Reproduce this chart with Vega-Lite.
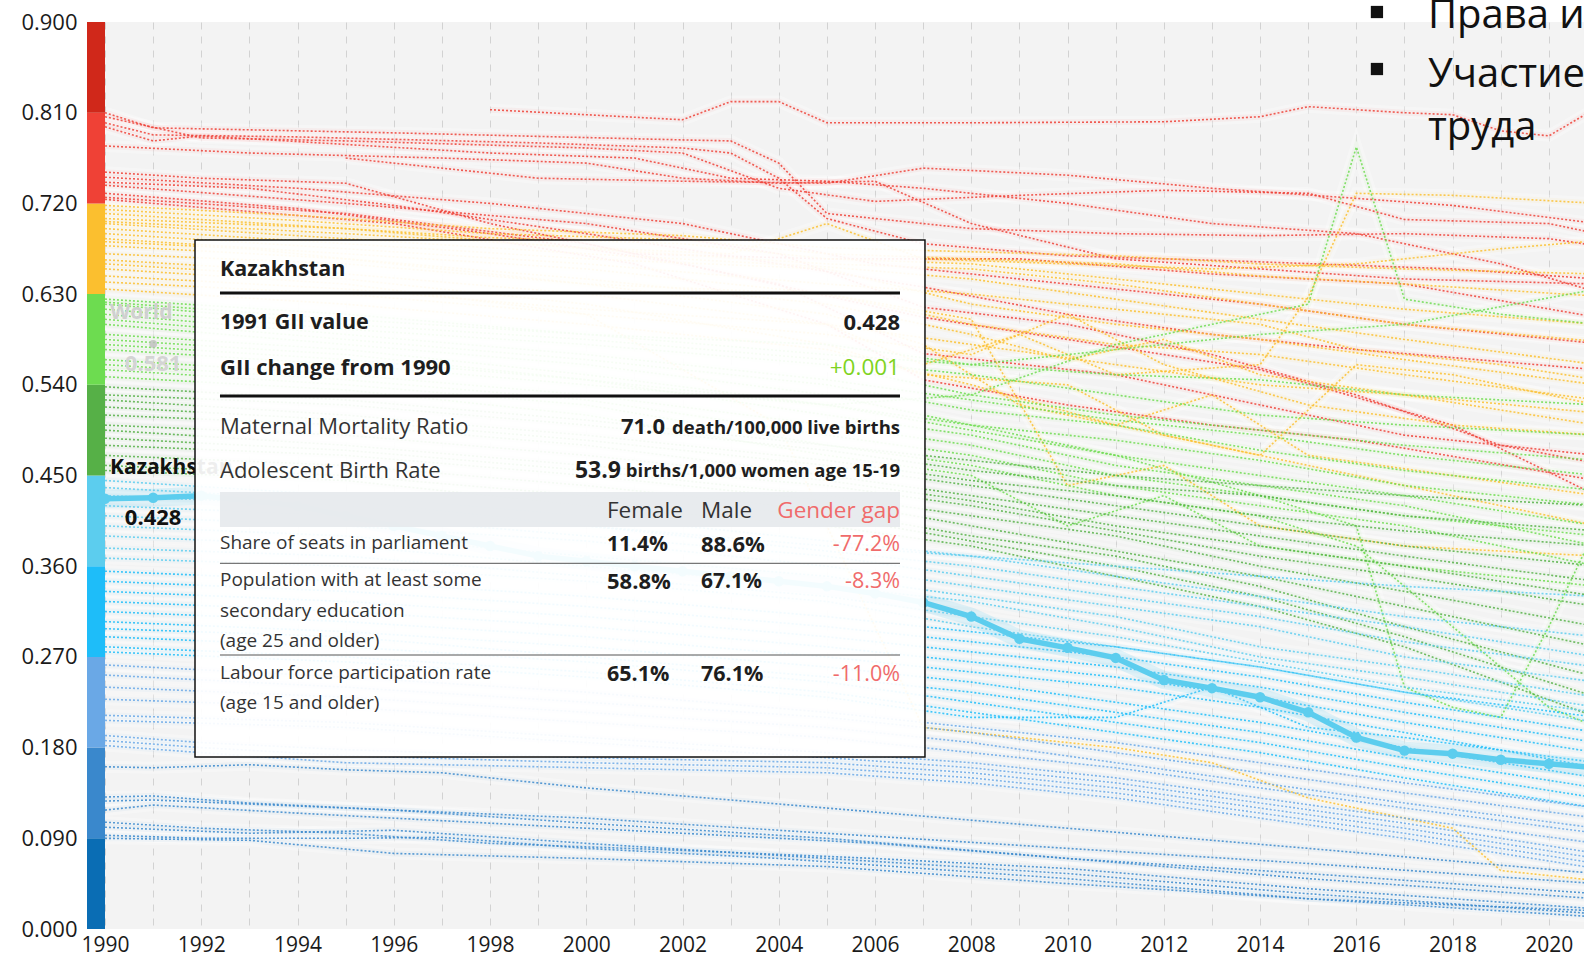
{
"$schema": "https://vega.github.io/schema/vega-lite/v6.json",
"width": 1497, "height": 907,
"autosize": {"type": "none"},
"padding": {"left": 87, "top": 22, "right": 0, "bottom": 28},
"background": "white",
"config": {"view": {"fill": "#f3f3f3", "stroke": null}, "font": "Open Sans"},
"data": {"values": [{}]},
"datasets": {
"bands": [{"k":"a","lo":0,"hi":0.09},{"k":"b","lo":0.09,"hi":0.18},{"k":"c","lo":0.18,"hi":0.27},{"k":"d","lo":0.27,"hi":0.36},{"k":"e","lo":0.36,"hi":0.45},{"k":"f","lo":0.45,"hi":0.54},{"k":"g","lo":0.54,"hi":0.63},{"k":"h","lo":0.63,"hi":0.72},{"k":"i","lo":0.72,"hi":0.81},{"k":"j","lo":0.81,"hi":0.9}],
"kz": [{"t":1990,"v":0.427},{"t":1991,"v":0.428},{"t":1992,"v":0.43},{"t":1993,"v":0.425},{"t":1994,"v":0.42},{"t":1995,"v":0.41},{"t":1996,"v":0.4},{"t":1997,"v":0.39},{"t":1998,"v":0.38},{"t":1999,"v":0.37},{"t":2000,"v":0.365},{"t":2001,"v":0.36},{"t":2002,"v":0.355},{"t":2003,"v":0.35},{"t":2004,"v":0.345},{"t":2005,"v":0.34},{"t":2006,"v":0.333},{"t":2007,"v":0.324},{"t":2008,"v":0.31},{"t":2009,"v":0.288},{"t":2010,"v":0.279},{"t":2011,"v":0.269},{"t":2012,"v":0.247},{"t":2013,"v":0.239},{"t":2014,"v":0.23},{"t":2015,"v":0.215},{"t":2016,"v":0.19},{"t":2017,"v":0.177},{"t":2018,"v":0.174},{"t":2019,"v":0.168},{"t":2020,"v":0.164},{"t":2021,"v":0.16}],
"lines": [
{"c":"i1","k":"i","t":1998,"v":0.813},{"c":"i1","k":"i","t":2002,"v":0.803},{"c":"i1","k":"i","t":2003,"v":0.821},{"c":"i1","k":"i","t":2004,"v":0.821},{"c":"i1","k":"i","t":2005,"v":0.8},{"c":"i1","k":"i","t":2008,"v":0.8},{"c":"i1","k":"i","t":2012,"v":0.801},{"c":"i1","k":"i","t":2014,"v":0.806},{"c":"i1","k":"i","t":2015,"v":0.816},{"c":"i1","k":"i","t":2017,"v":0.81},{"c":"i1","k":"i","t":2018,"v":0.808},{"c":"i1","k":"i","t":2019,"v":0.792},{"c":"i1","k":"i","t":2020,"v":0.787},{"c":"i1","k":"i","t":2021,"v":0.815},
{"c":"i2","k":"i","t":1990,"v":0.81},{"c":"i2","k":"i","t":1991,"v":0.795},{"c":"i2","k":"i","t":1996,"v":0.79},{"c":"i2","k":"i","t":2002,"v":0.783},{"c":"i2","k":"i","t":2003,"v":0.782},{"c":"i2","k":"i","t":2004,"v":0.76},{"c":"i2","k":"i","t":2005,"v":0.71},{"c":"i2","k":"i","t":2008,"v":0.695},{"c":"i2","k":"i","t":2011,"v":0.69},{"c":"i2","k":"i","t":2014,"v":0.688},{"c":"i2","k":"i","t":2017,"v":0.69},{"c":"i2","k":"i","t":2020,"v":0.685},{"c":"i2","k":"i","t":2021,"v":0.678},
{"c":"i3","k":"i","t":1990,"v":0.806},{"c":"i3","k":"i","t":1992,"v":0.785},{"c":"i3","k":"i","t":1995,"v":0.782},{"c":"i3","k":"i","t":2000,"v":0.775},{"c":"i3","k":"i","t":2002,"v":0.77},{"c":"i3","k":"i","t":2004,"v":0.735},{"c":"i3","k":"i","t":2006,"v":0.722},{"c":"i3","k":"i","t":2009,"v":0.728},{"c":"i3","k":"i","t":2012,"v":0.733},{"c":"i3","k":"i","t":2015,"v":0.73},{"c":"i3","k":"i","t":2017,"v":0.704},{"c":"i3","k":"i","t":2020,"v":0.7},{"c":"i3","k":"i","t":2021,"v":0.69},
{"c":"i4","k":"i","t":1990,"v":0.796},{"c":"i4","k":"i","t":1991,"v":0.782},{"c":"i4","k":"i","t":1992,"v":0.787},{"c":"i4","k":"i","t":1998,"v":0.77},{"c":"i4","k":"i","t":2001,"v":0.765},{"c":"i4","k":"i","t":2003,"v":0.745},{"c":"i4","k":"i","t":2005,"v":0.742},{"c":"i4","k":"i","t":2007,"v":0.735},{"c":"i4","k":"i","t":2010,"v":0.72},{"c":"i4","k":"i","t":2013,"v":0.7},{"c":"i4","k":"i","t":2016,"v":0.69},{"c":"i4","k":"i","t":2019,"v":0.66},{"c":"i4","k":"i","t":2021,"v":0.632},
{"c":"i5","k":"i","t":1990,"v":0.777},{"c":"i5","k":"i","t":1993,"v":0.77},{"c":"i5","k":"i","t":1997,"v":0.765},{"c":"i5","k":"i","t":2000,"v":0.76},{"c":"i5","k":"i","t":2002,"v":0.745},{"c":"i5","k":"i","t":2004,"v":0.74},{"c":"i5","k":"i","t":2006,"v":0.742},{"c":"i5","k":"i","t":2008,"v":0.7},{"c":"i5","k":"i","t":2011,"v":0.665},{"c":"i5","k":"i","t":2014,"v":0.655},{"c":"i5","k":"i","t":2017,"v":0.645},{"c":"i5","k":"i","t":2021,"v":0.64},
{"c":"i6","k":"i","t":1990,"v":0.751},{"c":"i6","k":"i","t":1992,"v":0.745},{"c":"i6","k":"i","t":1995,"v":0.74},{"c":"i6","k":"i","t":1998,"v":0.7},{"c":"i6","k":"i","t":2001,"v":0.67},{"c":"i6","k":"i","t":2005,"v":0.665},{"c":"i6","k":"i","t":2009,"v":0.665},{"c":"i6","k":"i","t":2013,"v":0.65},{"c":"i6","k":"i","t":2017,"v":0.64},{"c":"i6","k":"i","t":2021,"v":0.607},
{"c":"i7","k":"i","t":1990,"v":0.746},{"c":"i7","k":"i","t":1994,"v":0.735},{"c":"i7","k":"i","t":1998,"v":0.72},{"c":"i7","k":"i","t":2002,"v":0.7},{"c":"i7","k":"i","t":2006,"v":0.66},{"c":"i7","k":"i","t":2010,"v":0.64},{"c":"i7","k":"i","t":2014,"v":0.62},{"c":"i7","k":"i","t":2017,"v":0.6},{"c":"i7","k":"i","t":2021,"v":0.581},
{"c":"i8","k":"i","t":1990,"v":0.741},{"c":"i8","k":"i","t":1993,"v":0.735},{"c":"i8","k":"i","t":1996,"v":0.718},{"c":"i8","k":"i","t":2000,"v":0.69},{"c":"i8","k":"i","t":2004,"v":0.66},{"c":"i8","k":"i","t":2007,"v":0.637},{"c":"i8","k":"i","t":2010,"v":0.61},{"c":"i8","k":"i","t":2013,"v":0.59},{"c":"i8","k":"i","t":2016,"v":0.575},{"c":"i8","k":"i","t":2021,"v":0.555},
{"c":"i9","k":"i","t":1990,"v":0.738},{"c":"i9","k":"i","t":1995,"v":0.72},{"c":"i9","k":"i","t":2000,"v":0.7},{"c":"i9","k":"i","t":2004,"v":0.67},{"c":"i9","k":"i","t":2007,"v":0.617},{"c":"i9","k":"i","t":2010,"v":0.6},{"c":"i9","k":"i","t":2013,"v":0.57},{"c":"i9","k":"i","t":2016,"v":0.53},{"c":"i9","k":"i","t":2019,"v":0.48},{"c":"i9","k":"i","t":2021,"v":0.462},
{"c":"i10","k":"i","t":1990,"v":0.73},{"c":"i10","k":"i","t":1994,"v":0.715},{"c":"i10","k":"i","t":1998,"v":0.69},{"c":"i10","k":"i","t":2002,"v":0.66},{"c":"i10","k":"i","t":2007,"v":0.607},{"c":"i10","k":"i","t":2010,"v":0.585},{"c":"i10","k":"i","t":2014,"v":0.555},{"c":"i10","k":"i","t":2018,"v":0.5},{"c":"i10","k":"i","t":2021,"v":0.43},
{"c":"i11","k":"i","t":1990,"v":0.726},{"c":"i11","k":"i","t":1995,"v":0.71},{"c":"i11","k":"i","t":2000,"v":0.68},{"c":"i11","k":"i","t":2004,"v":0.64},{"c":"i11","k":"i","t":2007,"v":0.571},{"c":"i11","k":"i","t":2011,"v":0.55},{"c":"i11","k":"i","t":2014,"v":0.52},{"c":"i11","k":"i","t":2017,"v":0.49},{"c":"i11","k":"i","t":2021,"v":0.47},
{"c":"i12","k":"i","t":1990,"v":0.724},{"c":"i12","k":"i","t":1996,"v":0.7},{"c":"i12","k":"i","t":2001,"v":0.66},{"c":"i12","k":"i","t":2005,"v":0.6},{"c":"i12","k":"i","t":2007,"v":0.545},{"c":"i12","k":"i","t":2010,"v":0.52},{"c":"i12","k":"i","t":2013,"v":0.5},{"c":"i12","k":"i","t":2016,"v":0.485},{"c":"i12","k":"i","t":2021,"v":0.445},
{"c":"i13","k":"i","t":1995,"v":0.765},{"c":"i13","k":"i","t":1999,"v":0.745},{"c":"i13","k":"i","t":2002,"v":0.742},{"c":"i13","k":"i","t":2005,"v":0.74},{"c":"i13","k":"i","t":2007,"v":0.755},{"c":"i13","k":"i","t":2010,"v":0.748},{"c":"i13","k":"i","t":2013,"v":0.735},{"c":"i13","k":"i","t":2016,"v":0.725},{"c":"i13","k":"i","t":2018,"v":0.718},{"c":"i13","k":"i","t":2021,"v":0.7},
{"c":"i14","k":"i","t":1990,"v":0.8},{"c":"i14","k":"i","t":1991,"v":0.788},{"c":"i14","k":"i","t":1994,"v":0.786},{"c":"i14","k":"i","t":1999,"v":0.78},{"c":"i14","k":"i","t":2002,"v":0.775},{"c":"i14","k":"i","t":2003,"v":0.77},{"c":"i14","k":"i","t":2004,"v":0.745},{"c":"i14","k":"i","t":2005,"v":0.705},{"c":"i14","k":"i","t":2007,"v":0.68},{"c":"i14","k":"i","t":2010,"v":0.668},{"c":"i14","k":"i","t":2014,"v":0.662},{"c":"i14","k":"i","t":2018,"v":0.655},{"c":"i14","k":"i","t":2021,"v":0.645},
{"c":"h1","k":"h","t":1990,"v":0.718},{"c":"h1","k":"h","t":1994,"v":0.708},{"c":"h1","k":"h","t":1998,"v":0.695},{"c":"h1","k":"h","t":2002,"v":0.688},{"c":"h1","k":"h","t":2005,"v":0.676},{"c":"h1","k":"h","t":2008,"v":0.672},{"c":"h1","k":"h","t":2011,"v":0.668},{"c":"h1","k":"h","t":2014,"v":0.66},{"c":"h1","k":"h","t":2017,"v":0.655},{"c":"h1","k":"h","t":2021,"v":0.65},
{"c":"h2","k":"h","t":1990,"v":0.714},{"c":"h2","k":"h","t":1994,"v":0.703},{"c":"h2","k":"h","t":1998,"v":0.69},{"c":"h2","k":"h","t":2002,"v":0.684},{"c":"h2","k":"h","t":2005,"v":0.67},{"c":"h2","k":"h","t":2008,"v":0.665},{"c":"h2","k":"h","t":2011,"v":0.66},{"c":"h2","k":"h","t":2014,"v":0.648},{"c":"h2","k":"h","t":2017,"v":0.64},{"c":"h2","k":"h","t":2021,"v":0.628},
{"c":"h3","k":"h","t":1990,"v":0.71},{"c":"h3","k":"h","t":1994,"v":0.698},{"c":"h3","k":"h","t":1998,"v":0.686},{"c":"h3","k":"h","t":2002,"v":0.68},{"c":"h3","k":"h","t":2005,"v":0.665},{"c":"h3","k":"h","t":2008,"v":0.66},{"c":"h3","k":"h","t":2011,"v":0.645},{"c":"h3","k":"h","t":2014,"v":0.63},{"c":"h3","k":"h","t":2017,"v":0.615},{"c":"h3","k":"h","t":2021,"v":0.6},
{"c":"h4","k":"h","t":1990,"v":0.705},{"c":"h4","k":"h","t":1995,"v":0.695},{"c":"h4","k":"h","t":2000,"v":0.675},{"c":"h4","k":"h","t":2005,"v":0.66},{"c":"h4","k":"h","t":2008,"v":0.655},{"c":"h4","k":"h","t":2011,"v":0.64},{"c":"h4","k":"h","t":2014,"v":0.62},{"c":"h4","k":"h","t":2017,"v":0.6},{"c":"h4","k":"h","t":2021,"v":0.583},
{"c":"h5","k":"h","t":1990,"v":0.7},{"c":"h5","k":"h","t":1995,"v":0.685},{"c":"h5","k":"h","t":2000,"v":0.67},{"c":"h5","k":"h","t":2005,"v":0.657},{"c":"h5","k":"h","t":2008,"v":0.645},{"c":"h5","k":"h","t":2011,"v":0.625},{"c":"h5","k":"h","t":2014,"v":0.605},{"c":"h5","k":"h","t":2017,"v":0.585},{"c":"h5","k":"h","t":2021,"v":0.56},
{"c":"h6","k":"h","t":1990,"v":0.695},{"c":"h6","k":"h","t":1995,"v":0.68},{"c":"h6","k":"h","t":2000,"v":0.665},{"c":"h6","k":"h","t":2005,"v":0.655},{"c":"h6","k":"h","t":2008,"v":0.62},{"c":"h6","k":"h","t":2011,"v":0.6},{"c":"h6","k":"h","t":2014,"v":0.585},{"c":"h6","k":"h","t":2017,"v":0.565},{"c":"h6","k":"h","t":2021,"v":0.54},
{"c":"h7","k":"h","t":1990,"v":0.69},{"c":"h7","k":"h","t":1995,"v":0.675},{"c":"h7","k":"h","t":2000,"v":0.66},{"c":"h7","k":"h","t":2005,"v":0.64},{"c":"h7","k":"h","t":2008,"v":0.63},{"c":"h7","k":"h","t":2011,"v":0.615},{"c":"h7","k":"h","t":2014,"v":0.6},{"c":"h7","k":"h","t":2016,"v":0.575},{"c":"h7","k":"h","t":2019,"v":0.56},{"c":"h7","k":"h","t":2021,"v":0.545},
{"c":"h8","k":"h","t":1990,"v":0.685},{"c":"h8","k":"h","t":1995,"v":0.67},{"c":"h8","k":"h","t":2000,"v":0.655},{"c":"h8","k":"h","t":2005,"v":0.63},{"c":"h8","k":"h","t":2008,"v":0.6},{"c":"h8","k":"h","t":2011,"v":0.58},{"c":"h8","k":"h","t":2014,"v":0.57},{"c":"h8","k":"h","t":2017,"v":0.55},{"c":"h8","k":"h","t":2021,"v":0.525},
{"c":"h9","k":"h","t":1990,"v":0.678},{"c":"h9","k":"h","t":1995,"v":0.665},{"c":"h9","k":"h","t":2000,"v":0.645},{"c":"h9","k":"h","t":2005,"v":0.62},{"c":"h9","k":"h","t":2008,"v":0.59},{"c":"h9","k":"h","t":2010,"v":0.565},{"c":"h9","k":"h","t":2012,"v":0.585},{"c":"h9","k":"h","t":2014,"v":0.55},{"c":"h9","k":"h","t":2017,"v":0.53},{"c":"h9","k":"h","t":2021,"v":0.512},
{"c":"h10","k":"h","t":1990,"v":0.67},{"c":"h10","k":"h","t":1995,"v":0.66},{"c":"h10","k":"h","t":2000,"v":0.64},{"c":"h10","k":"h","t":2005,"v":0.61},{"c":"h10","k":"h","t":2007,"v":0.58},{"c":"h10","k":"h","t":2009,"v":0.52},{"c":"h10","k":"h","t":2011,"v":0.5},{"c":"h10","k":"h","t":2013,"v":0.53},{"c":"h10","k":"h","t":2015,"v":0.47},{"c":"h10","k":"h","t":2018,"v":0.45},{"c":"h10","k":"h","t":2021,"v":0.43},
{"c":"h11","k":"h","t":1990,"v":0.664},{"c":"h11","k":"h","t":1995,"v":0.65},{"c":"h11","k":"h","t":2000,"v":0.63},{"c":"h11","k":"h","t":2005,"v":0.6},{"c":"h11","k":"h","t":2007,"v":0.56},{"c":"h11","k":"h","t":2009,"v":0.59},{"c":"h11","k":"h","t":2011,"v":0.55},{"c":"h11","k":"h","t":2014,"v":0.56},{"c":"h11","k":"h","t":2015,"v":0.627},{"c":"h11","k":"h","t":2016,"v":0.73},{"c":"h11","k":"h","t":2018,"v":0.728},{"c":"h11","k":"h","t":2021,"v":0.72},
{"c":"h12","k":"h","t":1990,"v":0.66},{"c":"h12","k":"h","t":1995,"v":0.645},{"c":"h12","k":"h","t":2000,"v":0.62},{"c":"h12","k":"h","t":2005,"v":0.58},{"c":"h12","k":"h","t":2007,"v":0.55},{"c":"h12","k":"h","t":2010,"v":0.54},{"c":"h12","k":"h","t":2012,"v":0.49},{"c":"h12","k":"h","t":2014,"v":0.47},{"c":"h12","k":"h","t":2016,"v":0.56},{"c":"h12","k":"h","t":2018,"v":0.55},{"c":"h12","k":"h","t":2021,"v":0.52},
{"c":"h13","k":"h","t":1990,"v":0.655},{"c":"h13","k":"h","t":1995,"v":0.64},{"c":"h13","k":"h","t":2000,"v":0.61},{"c":"h13","k":"h","t":2004,"v":0.5},{"c":"h13","k":"h","t":2007,"v":0.2},{"c":"h13","k":"h","t":2009,"v":0.19},{"c":"h13","k":"h","t":2011,"v":0.18},{"c":"h13","k":"h","t":2013,"v":0.165},{"c":"h13","k":"h","t":2015,"v":0.13},{"c":"h13","k":"h","t":2018,"v":0.1},{"c":"h13","k":"h","t":2019,"v":0.058},{"c":"h13","k":"h","t":2021,"v":0.048},
{"c":"h14","k":"h","t":1990,"v":0.648},{"c":"h14","k":"h","t":1995,"v":0.635},{"c":"h14","k":"h","t":2000,"v":0.615},{"c":"h14","k":"h","t":2005,"v":0.6},{"c":"h14","k":"h","t":2008,"v":0.58},{"c":"h14","k":"h","t":2011,"v":0.56},{"c":"h14","k":"h","t":2014,"v":0.54},{"c":"h14","k":"h","t":2017,"v":0.53},{"c":"h14","k":"h","t":2021,"v":0.5},
{"c":"h15","k":"h","t":1990,"v":0.642},{"c":"h15","k":"h","t":1995,"v":0.63},{"c":"h15","k":"h","t":2000,"v":0.61},{"c":"h15","k":"h","t":2005,"v":0.59},{"c":"h15","k":"h","t":2008,"v":0.57},{"c":"h15","k":"h","t":2010,"v":0.61},{"c":"h15","k":"h","t":2012,"v":0.56},{"c":"h15","k":"h","t":2015,"v":0.52},{"c":"h15","k":"h","t":2018,"v":0.5},{"c":"h15","k":"h","t":2021,"v":0.49},
{"c":"h16","k":"h","t":1990,"v":0.635},{"c":"h16","k":"h","t":1995,"v":0.62},{"c":"h16","k":"h","t":2000,"v":0.6},{"c":"h16","k":"h","t":2005,"v":0.575},{"c":"h16","k":"h","t":2008,"v":0.54},{"c":"h16","k":"h","t":2011,"v":0.5},{"c":"h16","k":"h","t":2014,"v":0.47},{"c":"h16","k":"h","t":2017,"v":0.44},{"c":"h16","k":"h","t":2021,"v":0.4},
{"c":"h17","k":"h","t":1990,"v":0.702},{"c":"h17","k":"h","t":1995,"v":0.69},{"c":"h17","k":"h","t":2000,"v":0.676},{"c":"h17","k":"h","t":2003,"v":0.67},{"c":"h17","k":"h","t":2005,"v":0.7},{"c":"h17","k":"h","t":2007,"v":0.665},{"c":"h17","k":"h","t":2010,"v":0.66},{"c":"h17","k":"h","t":2013,"v":0.655},{"c":"h17","k":"h","t":2016,"v":0.66},{"c":"h17","k":"h","t":2019,"v":0.675},{"c":"h17","k":"h","t":2021,"v":0.683},
{"c":"h18","k":"h","t":1990,"v":0.682},{"c":"h18","k":"h","t":1993,"v":0.675},{"c":"h18","k":"h","t":1996,"v":0.66},{"c":"h18","k":"h","t":2000,"v":0.64},{"c":"h18","k":"h","t":2005,"v":0.63},{"c":"h18","k":"h","t":2008,"v":0.605},{"c":"h18","k":"h","t":2010,"v":0.44},{"c":"h18","k":"h","t":2012,"v":0.46},{"c":"h18","k":"h","t":2014,"v":0.4},{"c":"h18","k":"h","t":2017,"v":0.38},{"c":"h18","k":"h","t":2021,"v":0.37},
{"c":"g1","k":"g","t":1990,"v":0.625},{"c":"g1","k":"g","t":1995,"v":0.61},{"c":"g1","k":"g","t":2000,"v":0.59},{"c":"g1","k":"g","t":2005,"v":0.57},{"c":"g1","k":"g","t":2008,"v":0.56},{"c":"g1","k":"g","t":2011,"v":0.55},{"c":"g1","k":"g","t":2014,"v":0.545},{"c":"g1","k":"g","t":2017,"v":0.53},{"c":"g1","k":"g","t":2021,"v":0.52},
{"c":"g2","k":"g","t":1990,"v":0.62},{"c":"g2","k":"g","t":1995,"v":0.6},{"c":"g2","k":"g","t":2000,"v":0.585},{"c":"g2","k":"g","t":2005,"v":0.565},{"c":"g2","k":"g","t":2008,"v":0.55},{"c":"g2","k":"g","t":2011,"v":0.53},{"c":"g2","k":"g","t":2014,"v":0.51},{"c":"g2","k":"g","t":2017,"v":0.5},{"c":"g2","k":"g","t":2021,"v":0.49},
{"c":"g3","k":"g","t":1990,"v":0.615},{"c":"g3","k":"g","t":1995,"v":0.595},{"c":"g3","k":"g","t":2000,"v":0.58},{"c":"g3","k":"g","t":2005,"v":0.56},{"c":"g3","k":"g","t":2008,"v":0.53},{"c":"g3","k":"g","t":2011,"v":0.51},{"c":"g3","k":"g","t":2014,"v":0.495},{"c":"g3","k":"g","t":2017,"v":0.48},{"c":"g3","k":"g","t":2021,"v":0.465},
{"c":"g4","k":"g","t":1990,"v":0.61},{"c":"g4","k":"g","t":1995,"v":0.59},{"c":"g4","k":"g","t":2000,"v":0.57},{"c":"g4","k":"g","t":2005,"v":0.545},{"c":"g4","k":"g","t":2008,"v":0.525},{"c":"g4","k":"g","t":2011,"v":0.505},{"c":"g4","k":"g","t":2014,"v":0.49},{"c":"g4","k":"g","t":2017,"v":0.47},{"c":"g4","k":"g","t":2021,"v":0.45},
{"c":"g5","k":"g","t":1990,"v":0.605},{"c":"g5","k":"g","t":1995,"v":0.585},{"c":"g5","k":"g","t":2000,"v":0.565},{"c":"g5","k":"g","t":2005,"v":0.54},{"c":"g5","k":"g","t":2008,"v":0.515},{"c":"g5","k":"g","t":2011,"v":0.5},{"c":"g5","k":"g","t":2014,"v":0.475},{"c":"g5","k":"g","t":2017,"v":0.455},{"c":"g5","k":"g","t":2021,"v":0.435},
{"c":"g6","k":"g","t":1990,"v":0.6},{"c":"g6","k":"g","t":1995,"v":0.58},{"c":"g6","k":"g","t":2000,"v":0.56},{"c":"g6","k":"g","t":2005,"v":0.53},{"c":"g6","k":"g","t":2008,"v":0.5},{"c":"g6","k":"g","t":2011,"v":0.485},{"c":"g6","k":"g","t":2014,"v":0.465},{"c":"g6","k":"g","t":2017,"v":0.44},{"c":"g6","k":"g","t":2021,"v":0.42},
{"c":"g7","k":"g","t":1990,"v":0.59},{"c":"g7","k":"g","t":1995,"v":0.575},{"c":"g7","k":"g","t":2000,"v":0.55},{"c":"g7","k":"g","t":2005,"v":0.52},{"c":"g7","k":"g","t":2008,"v":0.495},{"c":"g7","k":"g","t":2011,"v":0.47},{"c":"g7","k":"g","t":2014,"v":0.45},{"c":"g7","k":"g","t":2017,"v":0.43},{"c":"g7","k":"g","t":2021,"v":0.4},
{"c":"g8","k":"g","t":1990,"v":0.585},{"c":"g8","k":"g","t":1995,"v":0.57},{"c":"g8","k":"g","t":2000,"v":0.545},{"c":"g8","k":"g","t":2005,"v":0.51},{"c":"g8","k":"g","t":2008,"v":0.49},{"c":"g8","k":"g","t":2011,"v":0.46},{"c":"g8","k":"g","t":2014,"v":0.44},{"c":"g8","k":"g","t":2017,"v":0.42},{"c":"g8","k":"g","t":2021,"v":0.38},
{"c":"g9","k":"g","t":1990,"v":0.575},{"c":"g9","k":"g","t":1995,"v":0.56},{"c":"g9","k":"g","t":2000,"v":0.54},{"c":"g9","k":"g","t":2005,"v":0.52},{"c":"g9","k":"g","t":2008,"v":0.53},{"c":"g9","k":"g","t":2011,"v":0.58},{"c":"g9","k":"g","t":2013,"v":0.6},{"c":"g9","k":"g","t":2015,"v":0.62},{"c":"g9","k":"g","t":2016,"v":0.776},{"c":"g9","k":"g","t":2017,"v":0.625},{"c":"g9","k":"g","t":2019,"v":0.61},{"c":"g9","k":"g","t":2021,"v":0.6},
{"c":"g10","k":"g","t":1990,"v":0.565},{"c":"g10","k":"g","t":1995,"v":0.55},{"c":"g10","k":"g","t":2000,"v":0.53},{"c":"g10","k":"g","t":2005,"v":0.5},{"c":"g10","k":"g","t":2008,"v":0.48},{"c":"g10","k":"g","t":2011,"v":0.45},{"c":"g10","k":"g","t":2014,"v":0.43},{"c":"g10","k":"g","t":2017,"v":0.41},{"c":"g10","k":"g","t":2021,"v":0.39},
{"c":"g11","k":"g","t":1990,"v":0.56},{"c":"g11","k":"g","t":1995,"v":0.545},{"c":"g11","k":"g","t":2000,"v":0.525},{"c":"g11","k":"g","t":2005,"v":0.49},{"c":"g11","k":"g","t":2008,"v":0.47},{"c":"g11","k":"g","t":2011,"v":0.44},{"c":"g11","k":"g","t":2014,"v":0.42},{"c":"g11","k":"g","t":2017,"v":0.4},{"c":"g11","k":"g","t":2021,"v":0.36},
{"c":"g12","k":"g","t":1990,"v":0.555},{"c":"g12","k":"g","t":1995,"v":0.54},{"c":"g12","k":"g","t":2000,"v":0.52},{"c":"g12","k":"g","t":2005,"v":0.48},{"c":"g12","k":"g","t":2008,"v":0.46},{"c":"g12","k":"g","t":2011,"v":0.43},{"c":"g12","k":"g","t":2014,"v":0.41},{"c":"g12","k":"g","t":2016,"v":0.38},{"c":"g12","k":"g","t":2018,"v":0.3},{"c":"g12","k":"g","t":2020,"v":0.22},{"c":"g12","k":"g","t":2021,"v":0.2},
{"c":"g13","k":"g","t":1990,"v":0.548},{"c":"g13","k":"g","t":1995,"v":0.535},{"c":"g13","k":"g","t":2000,"v":0.51},{"c":"g13","k":"g","t":2005,"v":0.47},{"c":"g13","k":"g","t":2008,"v":0.45},{"c":"g13","k":"g","t":2010,"v":0.4},{"c":"g13","k":"g","t":2012,"v":0.43},{"c":"g13","k":"g","t":2014,"v":0.38},{"c":"g13","k":"g","t":2017,"v":0.36},{"c":"g13","k":"g","t":2021,"v":0.34},
{"c":"g14","k":"g","t":1990,"v":0.622},{"c":"g14","k":"g","t":1995,"v":0.605},{"c":"g14","k":"g","t":2000,"v":0.59},{"c":"g14","k":"g","t":2005,"v":0.58},{"c":"g14","k":"g","t":2008,"v":0.56},{"c":"g14","k":"g","t":2011,"v":0.575},{"c":"g14","k":"g","t":2014,"v":0.59},{"c":"g14","k":"g","t":2017,"v":0.6},{"c":"g14","k":"g","t":2021,"v":0.635},
{"c":"g15","k":"g","t":1990,"v":0.58},{"c":"g15","k":"g","t":1995,"v":0.565},{"c":"g15","k":"g","t":2000,"v":0.545},{"c":"g15","k":"g","t":2005,"v":0.52},{"c":"g15","k":"g","t":2008,"v":0.5},{"c":"g15","k":"g","t":2011,"v":0.47},{"c":"g15","k":"g","t":2014,"v":0.43},{"c":"g15","k":"g","t":2016,"v":0.4},{"c":"g15","k":"g","t":2017,"v":0.24},{"c":"g15","k":"g","t":2018,"v":0.22},{"c":"g15","k":"g","t":2019,"v":0.21},{"c":"g15","k":"g","t":2020,"v":0.3},{"c":"g15","k":"g","t":2021,"v":0.4},
{"c":"f1","k":"f","t":1990,"v":0.538},{"c":"f1","k":"f","t":1995,"v":0.525},{"c":"f1","k":"f","t":2000,"v":0.505},{"c":"f1","k":"f","t":2005,"v":0.48},{"c":"f1","k":"f","t":2008,"v":0.465},{"c":"f1","k":"f","t":2011,"v":0.45},{"c":"f1","k":"f","t":2014,"v":0.44},{"c":"f1","k":"f","t":2017,"v":0.43},{"c":"f1","k":"f","t":2021,"v":0.42},
{"c":"f2","k":"f","t":1990,"v":0.53},{"c":"f2","k":"f","t":1995,"v":0.52},{"c":"f2","k":"f","t":2000,"v":0.5},{"c":"f2","k":"f","t":2005,"v":0.475},{"c":"f2","k":"f","t":2008,"v":0.455},{"c":"f2","k":"f","t":2011,"v":0.44},{"c":"f2","k":"f","t":2014,"v":0.43},{"c":"f2","k":"f","t":2017,"v":0.41},{"c":"f2","k":"f","t":2021,"v":0.395},
{"c":"f3","k":"f","t":1990,"v":0.525},{"c":"f3","k":"f","t":1995,"v":0.51},{"c":"f3","k":"f","t":2000,"v":0.49},{"c":"f3","k":"f","t":2005,"v":0.465},{"c":"f3","k":"f","t":2008,"v":0.445},{"c":"f3","k":"f","t":2011,"v":0.43},{"c":"f3","k":"f","t":2014,"v":0.41},{"c":"f3","k":"f","t":2017,"v":0.395},{"c":"f3","k":"f","t":2021,"v":0.38},
{"c":"f4","k":"f","t":1990,"v":0.518},{"c":"f4","k":"f","t":1995,"v":0.505},{"c":"f4","k":"f","t":2000,"v":0.485},{"c":"f4","k":"f","t":2005,"v":0.46},{"c":"f4","k":"f","t":2008,"v":0.44},{"c":"f4","k":"f","t":2011,"v":0.42},{"c":"f4","k":"f","t":2014,"v":0.4},{"c":"f4","k":"f","t":2017,"v":0.38},{"c":"f4","k":"f","t":2021,"v":0.36},
{"c":"f5","k":"f","t":1990,"v":0.51},{"c":"f5","k":"f","t":1995,"v":0.5},{"c":"f5","k":"f","t":2000,"v":0.48},{"c":"f5","k":"f","t":2005,"v":0.45},{"c":"f5","k":"f","t":2008,"v":0.43},{"c":"f5","k":"f","t":2011,"v":0.41},{"c":"f5","k":"f","t":2014,"v":0.39},{"c":"f5","k":"f","t":2017,"v":0.37},{"c":"f5","k":"f","t":2021,"v":0.345},
{"c":"f6","k":"f","t":1990,"v":0.5},{"c":"f6","k":"f","t":1995,"v":0.49},{"c":"f6","k":"f","t":2000,"v":0.47},{"c":"f6","k":"f","t":2005,"v":0.445},{"c":"f6","k":"f","t":2008,"v":0.425},{"c":"f6","k":"f","t":2011,"v":0.4},{"c":"f6","k":"f","t":2014,"v":0.38},{"c":"f6","k":"f","t":2017,"v":0.36},{"c":"f6","k":"f","t":2021,"v":0.33},
{"c":"f7","k":"f","t":1990,"v":0.495},{"c":"f7","k":"f","t":1995,"v":0.48},{"c":"f7","k":"f","t":2000,"v":0.46},{"c":"f7","k":"f","t":2005,"v":0.44},{"c":"f7","k":"f","t":2008,"v":0.42},{"c":"f7","k":"f","t":2011,"v":0.395},{"c":"f7","k":"f","t":2014,"v":0.37},{"c":"f7","k":"f","t":2017,"v":0.35},{"c":"f7","k":"f","t":2021,"v":0.32},
{"c":"f8","k":"f","t":1990,"v":0.487},{"c":"f8","k":"f","t":1995,"v":0.475},{"c":"f8","k":"f","t":2000,"v":0.455},{"c":"f8","k":"f","t":2005,"v":0.43},{"c":"f8","k":"f","t":2008,"v":0.41},{"c":"f8","k":"f","t":2011,"v":0.39},{"c":"f8","k":"f","t":2014,"v":0.36},{"c":"f8","k":"f","t":2017,"v":0.335},{"c":"f8","k":"f","t":2021,"v":0.3},
{"c":"f9","k":"f","t":1990,"v":0.48},{"c":"f9","k":"f","t":1995,"v":0.47},{"c":"f9","k":"f","t":2000,"v":0.45},{"c":"f9","k":"f","t":2005,"v":0.425},{"c":"f9","k":"f","t":2008,"v":0.4},{"c":"f9","k":"f","t":2011,"v":0.375},{"c":"f9","k":"f","t":2014,"v":0.35},{"c":"f9","k":"f","t":2017,"v":0.32},{"c":"f9","k":"f","t":2021,"v":0.28},
{"c":"f10","k":"f","t":1990,"v":0.47},{"c":"f10","k":"f","t":1995,"v":0.46},{"c":"f10","k":"f","t":2000,"v":0.44},{"c":"f10","k":"f","t":2005,"v":0.415},{"c":"f10","k":"f","t":2008,"v":0.39},{"c":"f10","k":"f","t":2011,"v":0.37},{"c":"f10","k":"f","t":2014,"v":0.34},{"c":"f10","k":"f","t":2017,"v":0.3},{"c":"f10","k":"f","t":2021,"v":0.25},
{"c":"f11","k":"f","t":1990,"v":0.46},{"c":"f11","k":"f","t":1995,"v":0.45},{"c":"f11","k":"f","t":2000,"v":0.43},{"c":"f11","k":"f","t":2005,"v":0.41},{"c":"f11","k":"f","t":2008,"v":0.385},{"c":"f11","k":"f","t":2011,"v":0.36},{"c":"f11","k":"f","t":2014,"v":0.33},{"c":"f11","k":"f","t":2017,"v":0.29},{"c":"f11","k":"f","t":2021,"v":0.23},
{"c":"f12","k":"f","t":1990,"v":0.455},{"c":"f12","k":"f","t":1995,"v":0.445},{"c":"f12","k":"f","t":2000,"v":0.42},{"c":"f12","k":"f","t":2005,"v":0.4},{"c":"f12","k":"f","t":2008,"v":0.38},{"c":"f12","k":"f","t":2011,"v":0.35},{"c":"f12","k":"f","t":2014,"v":0.32},{"c":"f12","k":"f","t":2017,"v":0.28},{"c":"f12","k":"f","t":2021,"v":0.21},
{"c":"e1","k":"e","t":1990,"v":0.445},{"c":"e1","k":"e","t":1995,"v":0.43},{"c":"e1","k":"e","t":2000,"v":0.41},{"c":"e1","k":"e","t":2005,"v":0.385},{"c":"e1","k":"e","t":2008,"v":0.37},{"c":"e1","k":"e","t":2011,"v":0.35},{"c":"e1","k":"e","t":2014,"v":0.33},{"c":"e1","k":"e","t":2017,"v":0.31},{"c":"e1","k":"e","t":2021,"v":0.29},
{"c":"e2","k":"e","t":1990,"v":0.438},{"c":"e2","k":"e","t":1995,"v":0.425},{"c":"e2","k":"e","t":2000,"v":0.4},{"c":"e2","k":"e","t":2005,"v":0.375},{"c":"e2","k":"e","t":2008,"v":0.36},{"c":"e2","k":"e","t":2011,"v":0.34},{"c":"e2","k":"e","t":2014,"v":0.32},{"c":"e2","k":"e","t":2017,"v":0.3},{"c":"e2","k":"e","t":2021,"v":0.27},
{"c":"e3","k":"e","t":1990,"v":0.42},{"c":"e3","k":"e","t":1995,"v":0.41},{"c":"e3","k":"e","t":2000,"v":0.39},{"c":"e3","k":"e","t":2005,"v":0.37},{"c":"e3","k":"e","t":2008,"v":0.35},{"c":"e3","k":"e","t":2011,"v":0.33},{"c":"e3","k":"e","t":2014,"v":0.31},{"c":"e3","k":"e","t":2017,"v":0.285},{"c":"e3","k":"e","t":2021,"v":0.26},
{"c":"e4","k":"e","t":1990,"v":0.41},{"c":"e4","k":"e","t":1995,"v":0.4},{"c":"e4","k":"e","t":2000,"v":0.385},{"c":"e4","k":"e","t":2005,"v":0.36},{"c":"e4","k":"e","t":2008,"v":0.34},{"c":"e4","k":"e","t":2011,"v":0.32},{"c":"e4","k":"e","t":2014,"v":0.3},{"c":"e4","k":"e","t":2017,"v":0.27},{"c":"e4","k":"e","t":2021,"v":0.245},
{"c":"e5","k":"e","t":1990,"v":0.4},{"c":"e5","k":"e","t":1995,"v":0.39},{"c":"e5","k":"e","t":2000,"v":0.37},{"c":"e5","k":"e","t":2005,"v":0.35},{"c":"e5","k":"e","t":2008,"v":0.33},{"c":"e5","k":"e","t":2011,"v":0.31},{"c":"e5","k":"e","t":2014,"v":0.28},{"c":"e5","k":"e","t":2017,"v":0.26},{"c":"e5","k":"e","t":2021,"v":0.23},
{"c":"e6","k":"e","t":1990,"v":0.39},{"c":"e6","k":"e","t":1995,"v":0.38},{"c":"e6","k":"e","t":2000,"v":0.36},{"c":"e6","k":"e","t":2005,"v":0.34},{"c":"e6","k":"e","t":2008,"v":0.325},{"c":"e6","k":"e","t":2011,"v":0.3},{"c":"e6","k":"e","t":2014,"v":0.27},{"c":"e6","k":"e","t":2017,"v":0.25},{"c":"e6","k":"e","t":2021,"v":0.22},
{"c":"e7","k":"e","t":1990,"v":0.378},{"c":"e7","k":"e","t":1995,"v":0.37},{"c":"e7","k":"e","t":2000,"v":0.35},{"c":"e7","k":"e","t":2005,"v":0.33},{"c":"e7","k":"e","t":2008,"v":0.31},{"c":"e7","k":"e","t":2011,"v":0.29},{"c":"e7","k":"e","t":2014,"v":0.265},{"c":"e7","k":"e","t":2017,"v":0.24},{"c":"e7","k":"e","t":2021,"v":0.215},
{"c":"e8","k":"e","t":1990,"v":0.368},{"c":"e8","k":"e","t":1995,"v":0.36},{"c":"e8","k":"e","t":2000,"v":0.345},{"c":"e8","k":"e","t":2005,"v":0.325},{"c":"e8","k":"e","t":2008,"v":0.3},{"c":"e8","k":"e","t":2011,"v":0.28},{"c":"e8","k":"e","t":2014,"v":0.26},{"c":"e8","k":"e","t":2017,"v":0.235},{"c":"e8","k":"e","t":2021,"v":0.205},
{"c":"e9","k":"e","t":1990,"v":0.43},{"c":"e9","k":"e","t":1995,"v":0.42},{"c":"e9","k":"e","t":2000,"v":0.4},{"c":"e9","k":"e","t":2005,"v":0.38},{"c":"e9","k":"e","t":2008,"v":0.37},{"c":"e9","k":"e","t":2011,"v":0.36},{"c":"e9","k":"e","t":2014,"v":0.35},{"c":"e9","k":"e","t":2017,"v":0.34},{"c":"e9","k":"e","t":2021,"v":0.33},
{"c":"d1","k":"d","t":1990,"v":0.355},{"c":"d1","k":"d","t":1995,"v":0.345},{"c":"d1","k":"d","t":2000,"v":0.33},{"c":"d1","k":"d","t":2005,"v":0.31},{"c":"d1","k":"d","t":2008,"v":0.295},{"c":"d1","k":"d","t":2011,"v":0.28},{"c":"d1","k":"d","t":2014,"v":0.26},{"c":"d1","k":"d","t":2017,"v":0.235},{"c":"d1","k":"d","t":2021,"v":0.21},
{"c":"d2","k":"d","t":1990,"v":0.345},{"c":"d2","k":"d","t":1995,"v":0.335},{"c":"d2","k":"d","t":2000,"v":0.32},{"c":"d2","k":"d","t":2005,"v":0.3},{"c":"d2","k":"d","t":2008,"v":0.285},{"c":"d2","k":"d","t":2011,"v":0.27},{"c":"d2","k":"d","t":2014,"v":0.25},{"c":"d2","k":"d","t":2017,"v":0.225},{"c":"d2","k":"d","t":2021,"v":0.195},
{"c":"d3","k":"d","t":1990,"v":0.335},{"c":"d3","k":"d","t":1995,"v":0.325},{"c":"d3","k":"d","t":2000,"v":0.31},{"c":"d3","k":"d","t":2005,"v":0.29},{"c":"d3","k":"d","t":2008,"v":0.275},{"c":"d3","k":"d","t":2011,"v":0.26},{"c":"d3","k":"d","t":2014,"v":0.24},{"c":"d3","k":"d","t":2017,"v":0.215},{"c":"d3","k":"d","t":2021,"v":0.185},
{"c":"d4","k":"d","t":1990,"v":0.325},{"c":"d4","k":"d","t":1995,"v":0.315},{"c":"d4","k":"d","t":2000,"v":0.3},{"c":"d4","k":"d","t":2005,"v":0.28},{"c":"d4","k":"d","t":2008,"v":0.265},{"c":"d4","k":"d","t":2011,"v":0.25},{"c":"d4","k":"d","t":2014,"v":0.23},{"c":"d4","k":"d","t":2017,"v":0.205},{"c":"d4","k":"d","t":2021,"v":0.175},
{"c":"d5","k":"d","t":1990,"v":0.315},{"c":"d5","k":"d","t":1995,"v":0.305},{"c":"d5","k":"d","t":2000,"v":0.29},{"c":"d5","k":"d","t":2005,"v":0.27},{"c":"d5","k":"d","t":2008,"v":0.255},{"c":"d5","k":"d","t":2011,"v":0.24},{"c":"d5","k":"d","t":2014,"v":0.22},{"c":"d5","k":"d","t":2017,"v":0.195},{"c":"d5","k":"d","t":2021,"v":0.16},
{"c":"d6","k":"d","t":1990,"v":0.305},{"c":"d6","k":"d","t":1995,"v":0.295},{"c":"d6","k":"d","t":2000,"v":0.28},{"c":"d6","k":"d","t":2005,"v":0.26},{"c":"d6","k":"d","t":2008,"v":0.245},{"c":"d6","k":"d","t":2011,"v":0.225},{"c":"d6","k":"d","t":2014,"v":0.205},{"c":"d6","k":"d","t":2017,"v":0.18},{"c":"d6","k":"d","t":2021,"v":0.15},
{"c":"d7","k":"d","t":1990,"v":0.298},{"c":"d7","k":"d","t":1995,"v":0.29},{"c":"d7","k":"d","t":2000,"v":0.27},{"c":"d7","k":"d","t":2005,"v":0.25},{"c":"d7","k":"d","t":2008,"v":0.235},{"c":"d7","k":"d","t":2011,"v":0.215},{"c":"d7","k":"d","t":2014,"v":0.195},{"c":"d7","k":"d","t":2017,"v":0.17},{"c":"d7","k":"d","t":2021,"v":0.14},
{"c":"d8","k":"d","t":1990,"v":0.29},{"c":"d8","k":"d","t":1995,"v":0.28},{"c":"d8","k":"d","t":2000,"v":0.265},{"c":"d8","k":"d","t":2005,"v":0.245},{"c":"d8","k":"d","t":2008,"v":0.225},{"c":"d8","k":"d","t":2011,"v":0.205},{"c":"d8","k":"d","t":2014,"v":0.185},{"c":"d8","k":"d","t":2017,"v":0.16},{"c":"d8","k":"d","t":2021,"v":0.13},
{"c":"d9","k":"d","t":1990,"v":0.28},{"c":"d9","k":"d","t":1995,"v":0.27},{"c":"d9","k":"d","t":2000,"v":0.255},{"c":"d9","k":"d","t":2005,"v":0.235},{"c":"d9","k":"d","t":2008,"v":0.215},{"c":"d9","k":"d","t":2011,"v":0.195},{"c":"d9","k":"d","t":2014,"v":0.175},{"c":"d9","k":"d","t":2017,"v":0.15},{"c":"d9","k":"d","t":2021,"v":0.12},
{"c":"d10","k":"d","t":1990,"v":0.275},{"c":"d10","k":"d","t":1995,"v":0.265},{"c":"d10","k":"d","t":2000,"v":0.25},{"c":"d10","k":"d","t":2005,"v":0.23},{"c":"d10","k":"d","t":2008,"v":0.21},{"c":"d10","k":"d","t":2011,"v":0.21},{"c":"d10","k":"d","t":2013,"v":0.24},{"c":"d10","k":"d","t":2015,"v":0.2},{"c":"d10","k":"d","t":2017,"v":0.19},{"c":"d10","k":"d","t":2021,"v":0.165},
{"c":"c1","k":"c","t":1990,"v":0.262},{"c":"c1","k":"c","t":1995,"v":0.25},{"c":"c1","k":"c","t":2000,"v":0.235},{"c":"c1","k":"c","t":2005,"v":0.215},{"c":"c1","k":"c","t":2008,"v":0.2},{"c":"c1","k":"c","t":2011,"v":0.185},{"c":"c1","k":"c","t":2014,"v":0.165},{"c":"c1","k":"c","t":2017,"v":0.145},{"c":"c1","k":"c","t":2021,"v":0.12},
{"c":"c2","k":"c","t":1990,"v":0.252},{"c":"c2","k":"c","t":1995,"v":0.24},{"c":"c2","k":"c","t":2000,"v":0.225},{"c":"c2","k":"c","t":2005,"v":0.21},{"c":"c2","k":"c","t":2008,"v":0.195},{"c":"c2","k":"c","t":2011,"v":0.175},{"c":"c2","k":"c","t":2014,"v":0.155},{"c":"c2","k":"c","t":2017,"v":0.135},{"c":"c2","k":"c","t":2021,"v":0.11},
{"c":"c3","k":"c","t":1990,"v":0.24},{"c":"c3","k":"c","t":1995,"v":0.23},{"c":"c3","k":"c","t":2000,"v":0.215},{"c":"c3","k":"c","t":2005,"v":0.2},{"c":"c3","k":"c","t":2008,"v":0.185},{"c":"c3","k":"c","t":2011,"v":0.165},{"c":"c3","k":"c","t":2014,"v":0.145},{"c":"c3","k":"c","t":2017,"v":0.125},{"c":"c3","k":"c","t":2021,"v":0.1},
{"c":"c4","k":"c","t":1990,"v":0.228},{"c":"c4","k":"c","t":1995,"v":0.22},{"c":"c4","k":"c","t":2000,"v":0.205},{"c":"c4","k":"c","t":2005,"v":0.19},{"c":"c4","k":"c","t":2008,"v":0.175},{"c":"c4","k":"c","t":2011,"v":0.16},{"c":"c4","k":"c","t":2014,"v":0.14},{"c":"c4","k":"c","t":2017,"v":0.12},{"c":"c4","k":"c","t":2021,"v":0.095},
{"c":"c5","k":"c","t":1990,"v":0.212},{"c":"c5","k":"c","t":1995,"v":0.205},{"c":"c5","k":"c","t":2000,"v":0.19},{"c":"c5","k":"c","t":2005,"v":0.175},{"c":"c5","k":"c","t":2008,"v":0.165},{"c":"c5","k":"c","t":2011,"v":0.15},{"c":"c5","k":"c","t":2014,"v":0.13},{"c":"c5","k":"c","t":2017,"v":0.11},{"c":"c5","k":"c","t":2021,"v":0.085},
{"c":"c6","k":"c","t":1990,"v":0.207},{"c":"c6","k":"c","t":1995,"v":0.2},{"c":"c6","k":"c","t":2000,"v":0.185},{"c":"c6","k":"c","t":2005,"v":0.17},{"c":"c6","k":"c","t":2008,"v":0.16},{"c":"c6","k":"c","t":2011,"v":0.145},{"c":"c6","k":"c","t":2014,"v":0.125},{"c":"c6","k":"c","t":2017,"v":0.105},{"c":"c6","k":"c","t":2021,"v":0.075},
{"c":"c7","k":"c","t":1990,"v":0.192},{"c":"c7","k":"c","t":1992,"v":0.185},{"c":"c7","k":"c","t":1995,"v":0.178},{"c":"c7","k":"c","t":2000,"v":0.17},{"c":"c7","k":"c","t":2005,"v":0.165},{"c":"c7","k":"c","t":2008,"v":0.155},{"c":"c7","k":"c","t":2011,"v":0.14},{"c":"c7","k":"c","t":2014,"v":0.12},{"c":"c7","k":"c","t":2017,"v":0.1},{"c":"c7","k":"c","t":2021,"v":0.07},
{"c":"c8","k":"c","t":1990,"v":0.187},{"c":"c8","k":"c","t":1992,"v":0.18},{"c":"c8","k":"c","t":1995,"v":0.172},{"c":"c8","k":"c","t":2000,"v":0.165},{"c":"c8","k":"c","t":2005,"v":0.16},{"c":"c8","k":"c","t":2008,"v":0.15},{"c":"c8","k":"c","t":2011,"v":0.135},{"c":"c8","k":"c","t":2014,"v":0.115},{"c":"c8","k":"c","t":2017,"v":0.095},{"c":"c8","k":"c","t":2021,"v":0.065},
{"c":"c9","k":"c","t":1990,"v":0.182},{"c":"c9","k":"c","t":1992,"v":0.175},{"c":"c9","k":"c","t":1995,"v":0.165},{"c":"c9","k":"c","t":1998,"v":0.162},{"c":"c9","k":"c","t":2000,"v":0.16},{"c":"c9","k":"c","t":2005,"v":0.155},{"c":"c9","k":"c","t":2008,"v":0.145},{"c":"c9","k":"c","t":2011,"v":0.13},{"c":"c9","k":"c","t":2014,"v":0.11},{"c":"c9","k":"c","t":2017,"v":0.09},{"c":"c9","k":"c","t":2021,"v":0.06},
{"c":"b1","k":"b","t":1990,"v":0.161},{"c":"b1","k":"b","t":1991,"v":0.16},{"c":"b1","k":"b","t":1993,"v":0.163},{"c":"b1","k":"b","t":1995,"v":0.158},{"c":"b1","k":"b","t":1997,"v":0.155},{"c":"b1","k":"b","t":2000,"v":0.14},{"c":"b1","k":"b","t":2005,"v":0.12},{"c":"b1","k":"b","t":2010,"v":0.1},{"c":"b1","k":"b","t":2015,"v":0.08},{"c":"b1","k":"b","t":2021,"v":0.055},
{"c":"b2","k":"b","t":1990,"v":0.131},{"c":"b2","k":"b","t":1991,"v":0.132},{"c":"b2","k":"b","t":1993,"v":0.125},{"c":"b2","k":"b","t":1996,"v":0.118},{"c":"b2","k":"b","t":2000,"v":0.105},{"c":"b2","k":"b","t":2005,"v":0.09},{"c":"b2","k":"b","t":2010,"v":0.07},{"c":"b2","k":"b","t":2015,"v":0.05},{"c":"b2","k":"b","t":2021,"v":0.03},
{"c":"b3","k":"b","t":1990,"v":0.127},{"c":"b3","k":"b","t":1991,"v":0.128},{"c":"b3","k":"b","t":1995,"v":0.12},{"c":"b3","k":"b","t":2000,"v":0.11},{"c":"b3","k":"b","t":2005,"v":0.095},{"c":"b3","k":"b","t":2010,"v":0.08},{"c":"b3","k":"b","t":2015,"v":0.065},{"c":"b3","k":"b","t":2021,"v":0.045},
{"c":"b4","k":"b","t":1990,"v":0.118},{"c":"b4","k":"b","t":1991,"v":0.123},{"c":"b4","k":"b","t":1994,"v":0.115},{"c":"b4","k":"b","t":1998,"v":0.105},{"c":"b4","k":"b","t":2002,"v":0.095},{"c":"b4","k":"b","t":2006,"v":0.085},{"c":"b4","k":"b","t":2010,"v":0.07},{"c":"b4","k":"b","t":2015,"v":0.055},{"c":"b4","k":"b","t":2021,"v":0.035},
{"c":"b5","k":"b","t":1990,"v":0.106},{"c":"b5","k":"b","t":1992,"v":0.1},{"c":"b5","k":"b","t":1995,"v":0.095},{"c":"b5","k":"b","t":1998,"v":0.085},{"c":"b5","k":"b","t":2002,"v":0.078},{"c":"b5","k":"b","t":2006,"v":0.07},{"c":"b5","k":"b","t":2010,"v":0.06},{"c":"b5","k":"b","t":2015,"v":0.04},{"c":"b5","k":"b","t":2021,"v":0.02},
{"c":"b6","k":"b","t":1990,"v":0.101},{"c":"b6","k":"b","t":1993,"v":0.095},{"c":"b6","k":"b","t":1996,"v":0.098},{"c":"b6","k":"b","t":2000,"v":0.085},{"c":"b6","k":"b","t":2005,"v":0.07},{"c":"b6","k":"b","t":2010,"v":0.055},{"c":"b6","k":"b","t":2015,"v":0.035},{"c":"b6","k":"b","t":2021,"v":0.015},
{"c":"b7","k":"b","t":1990,"v":0.093},{"c":"b7","k":"b","t":1992,"v":0.09},{"c":"b7","k":"b","t":1995,"v":0.09},{"c":"b7","k":"b","t":1997,"v":0.091},{"c":"b7","k":"b","t":2000,"v":0.08},{"c":"b7","k":"b","t":2004,"v":0.07},{"c":"b7","k":"b","t":2010,"v":0.05},{"c":"b7","k":"b","t":2015,"v":0.03},{"c":"b7","k":"b","t":2021,"v":0.012},
{"c":"b8","k":"b","t":1990,"v":0.09},{"c":"b8","k":"b","t":1993,"v":0.088},{"c":"b8","k":"b","t":1996,"v":0.075},{"c":"b8","k":"b","t":2000,"v":0.07},{"c":"b8","k":"b","t":2005,"v":0.062},{"c":"b8","k":"b","t":2010,"v":0.045},{"c":"b8","k":"b","t":2015,"v":0.03},{"c":"b8","k":"b","t":2021,"v":0.018}
]
},
"layer": [
{"data": {"name": "lines"}, "mark": {"type": "line", "stroke": "white", "strokeWidth": 12, "opacity": 0.3},
 "encoding": {
  "x": {"field": "t", "type": "quantitative", "scale": {"domain": [1989.626, 2020.73], "nice": false, "zero": false},
        "axis": {"values": [1990,1991,1992,1993,1994,1995,1996,1997,1998,1999,2000,2001,2002,2003,2004,2005,2006,2007,2008,2009,2010,2011,2012,2013,2014,2015,2016,2017,2018,2019,2020],
                 "format": "d", "labelExpr": "datum.value % 2 == 0 ? datum.label : ''", "grid": true, "gridColor": "#d2d2d2", "gridDash": [7, 7], "gridWidth": 1,
                 "domain": false, "ticks": false, "labelFont": "Open Sans", "labelFontSize": 21, "labelColor": "#1a1a1a", "labelPadding": 5, "labelFlush": false, "labelOverlap": false, "title": null}},
  "y": {"field": "v", "type": "quantitative", "scale": {"domain": [0, 0.9], "nice": false, "zero": false},
        "axis": {"values": [0, 0.09, 0.18, 0.27, 0.36, 0.45, 0.54, 0.63, 0.72, 0.81, 0.9], "format": ".3f", "grid": false, "domain": false, "ticks": false,
                 "labelFont": "Open Sans", "labelFontSize": 22, "labelColor": "#1a1a1a", "labelPadding": 10, "labelOverlap": false, "title": null}},
  "detail": {"field": "c"}}},
{"data": {"name": "bands"}, "mark": {"type": "rect"},
 "encoding": {
  "x": {"datum": 1989.626, "type": "quantitative"},
  "x2": {"datum": 1990},
  "y": {"field": "lo", "type": "quantitative"},
  "y2": {"field": "hi"},
  "color": {"field": "k", "type": "nominal", "legend": null,
            "scale": {"domain": ["a","b","c","d","e","f","g","h","i","j"], "range": ["#0a6db4","#3a88cc","#6aa8e6","#1ebdf9","#5ccdee","#56b047","#6ddc50","#fbbf2f","#ef4136","#d0281a"]}}
 }},
{"data": {"name": "lines"}, "mark": {"type": "line", "strokeWidth": 6, "opacity": 0.05},
 "encoding": {"x": {"field": "t", "type": "quantitative"}, "y": {"field": "v", "type": "quantitative"}, "detail": {"field": "c"},
  "color": {"field": "k", "type": "nominal", "legend": null}}},
{"data": {"name": "lines"}, "mark": {"type": "line", "strokeWidth": 1.6, "strokeDash": [2, 2], "opacity": 0.85},
 "encoding": {"x": {"field": "t", "type": "quantitative"}, "y": {"field": "v", "type": "quantitative"}, "detail": {"field": "c"},
  "color": {"field": "k", "type": "nominal", "legend": null}}},
{"data": {"name": "kz"}, "mark": {"type": "line", "stroke": "#7fd6f2", "strokeWidth": 18, "opacity": 0.22},
 "encoding": {"x": {"field": "t", "type": "quantitative"}, "y": {"field": "v", "type": "quantitative"}}},
{"data": {"name": "kz"}, "mark": {"type": "line", "stroke": "#5ccdee", "strokeWidth": 5.5},
 "encoding": {"x": {"field": "t", "type": "quantitative"}, "y": {"field": "v", "type": "quantitative"}}},
{"data": {"name": "kz"}, "mark": {"type": "point", "filled": true, "fill": "#5ccdee", "size": 110, "opacity": 1},
 "encoding": {"x": {"field": "t", "type": "quantitative"}, "y": {"field": "v", "type": "quantitative"}}},
{"mark": {"type": "point", "filled": true, "fill": "#bdbdbd", "size": 60, "opacity": 0.8},
 "encoding": {"x": {"datum": 1991}, "y": {"datum": 0.5806}}},
{"mark": {"type": "text", "text": "World", "align": "left", "baseline": "middle", "fontSize": 21, "fontWeight": "bold", "color": "#d0d0d0"},
 "encoding": {"x": {"datum": 1990.104}, "y": {"datum": 0.61124}}},
{"mark": {"type": "text", "text": "0.581", "align": "center", "baseline": "middle", "fontSize": 22, "fontWeight": "bold", "color": "#d4d4d4"},
 "encoding": {"x": {"datum": 1991}, "y": {"datum": 0.56064}}},
{"mark": {"type": "text", "text": "Kazakhstan", "align": "left", "baseline": "middle", "fontSize": 21, "fontWeight": "bold", "color": "#111111"},
 "encoding": {"x": {"datum": 1990.104}, "y": {"datum": 0.45744}}},
{"mark": {"type": "text", "text": "0.428", "align": "center", "baseline": "middle", "fontSize": 22, "fontWeight": "bold", "color": "#111111"},
 "encoding": {"x": {"datum": 1991}, "y": {"datum": 0.40783}}},
{"mark": {"type": "rect", "fill": "white", "fillOpacity": 0.93, "stroke": "#111111", "strokeWidth": 1.5},
 "encoding": {"x": {"datum": 1991.87}, "x2": {"datum": 2007.037}, "y": {"datum": 0.68368}, "y2": {"datum": 0.17067}}},
{"mark": {"type": "rect", "fill": "#e6e9ec", "opacity": 0.9},
 "encoding": {"x": {"datum": 1992.389}, "x2": {"datum": 2006.518}, "y": {"datum": 0.4336}, "y2": {"datum": 0.3989}}},
{"mark": {"type": "rule", "color": "#111111", "strokeWidth": 3},
 "encoding": {"x": {"datum": 1992.389}, "x2": {"datum": 2006.518}, "y": {"datum": 0.63109}}},
{"mark": {"type": "rule", "color": "#111111", "strokeWidth": 3},
 "encoding": {"x": {"datum": 1992.389}, "x2": {"datum": 2006.518}, "y": {"datum": 0.52889}}},
{"mark": {"type": "rule", "color": "#555555", "strokeWidth": 1},
 "encoding": {"x": {"datum": 1992.389}, "x2": {"datum": 2006.518}, "y": {"datum": 0.36288}}},
{"mark": {"type": "rule", "color": "#555555", "strokeWidth": 1},
 "encoding": {"x": {"datum": 1992.389}, "x2": {"datum": 2006.518}, "y": {"datum": 0.27188}}},
{"mark": {"type": "text", "text": "Kazakhstan", "align": "left", "baseline": "middle", "fontSize": 21.5, "fontWeight": "bold", "color": "#1e1e1e"},
 "encoding": {"x": {"datum": 1992.389}, "y": {"datum": 0.6539}}},
{"mark": {"type": "text", "text": "1991 GII value", "align": "left", "baseline": "middle", "fontSize": 21.5, "fontWeight": "bold", "color": "#1e1e1e"},
 "encoding": {"x": {"datum": 1992.389}, "y": {"datum": 0.60103}}},
{"mark": {"type": "text", "text": "0.428", "align": "right", "baseline": "middle", "fontSize": 22, "fontWeight": "bold", "color": "#1e1e1e"},
 "encoding": {"x": {"datum": 2006.518}, "y": {"datum": 0.60103}}},
{"mark": {"type": "text", "text": "GII change from 1990", "align": "left", "baseline": "middle", "fontSize": 22, "fontWeight": "bold", "color": "#1e1e1e"},
 "encoding": {"x": {"datum": 1992.389}, "y": {"datum": 0.55697}}},
{"mark": {"type": "text", "text": "+0.001", "align": "right", "baseline": "middle", "fontSize": 22.5, "color": "#7ed321"},
 "encoding": {"x": {"datum": 2006.518}, "y": {"datum": 0.55697}}},
{"mark": {"type": "text", "text": "Maternal Mortality Ratio", "align": "left", "baseline": "middle", "fontSize": 22, "color": "#333333"},
 "encoding": {"x": {"datum": 1992.389}, "y": {"datum": 0.49783}}},
{"mark": {"type": "text", "text": "71.0", "align": "right", "baseline": "middle", "fontSize": 22, "fontWeight": "bold", "color": "#1e1e1e"},
 "encoding": {"x": {"datum": 2001.635}, "y": {"datum": 0.49783}}},
{"mark": {"type": "text", "text": "death/100,000 live births", "align": "right", "baseline": "middle", "fontSize": 18.5, "fontWeight": "bold", "color": "#1e1e1e"},
 "encoding": {"x": {"datum": 2006.518}, "y": {"datum": 0.4972}}},
{"mark": {"type": "text", "text": "Adolescent Birth Rate", "align": "left", "baseline": "middle", "fontSize": 22, "color": "#333333"},
 "encoding": {"x": {"datum": 1992.389}, "y": {"datum": 0.45476}}},
{"mark": {"type": "text", "text": "53.9", "align": "right", "baseline": "middle", "fontSize": 23, "fontWeight": "bold", "color": "#1e1e1e"},
 "encoding": {"x": {"datum": 2000.721}, "y": {"datum": 0.45476}}},
{"mark": {"type": "text", "text": "births/1,000 women age 15-19", "align": "right", "baseline": "middle", "fontSize": 18.5, "fontWeight": "bold", "color": "#1e1e1e"},
 "encoding": {"x": {"datum": 2006.518}, "y": {"datum": 0.4541}}},
{"mark": {"type": "text", "text": "Female", "align": "left", "baseline": "middle", "fontSize": 22.5, "color": "#333333"},
 "encoding": {"x": {"datum": 2000.43}, "y": {"datum": 0.41507}}},
{"mark": {"type": "text", "text": "Male", "align": "left", "baseline": "middle", "fontSize": 22.5, "color": "#333333"},
 "encoding": {"x": {"datum": 2002.383}, "y": {"datum": 0.41507}}},
{"mark": {"type": "text", "text": "Gender gap", "align": "right", "baseline": "middle", "fontSize": 22.5, "color": "#f06b6b"},
 "encoding": {"x": {"datum": 2006.518}, "y": {"datum": 0.41507}}},
{"mark": {"type": "text", "text": "Share of seats in parliament", "align": "left", "baseline": "middle", "fontSize": 19, "color": "#333333"},
 "encoding": {"x": {"datum": 1992.389}, "y": {"datum": 0.38332}}},
{"mark": {"type": "text", "text": "11.4%", "align": "left", "baseline": "middle", "fontSize": 21, "fontWeight": "bold", "color": "#1e1e1e"},
 "encoding": {"x": {"datum": 2000.43}, "y": {"datum": 0.3815}}},
{"mark": {"type": "text", "text": "88.6%", "align": "left", "baseline": "middle", "fontSize": 22, "fontWeight": "bold", "color": "#1e1e1e"},
 "encoding": {"x": {"datum": 2002.383}, "y": {"datum": 0.3815}}},
{"mark": {"type": "text", "text": "-77.2%", "align": "right", "baseline": "middle", "fontSize": 21.5, "color": "#f06b6b"},
 "encoding": {"x": {"datum": 2006.518}, "y": {"datum": 0.3815}}},
{"mark": {"type": "text", "text": "Population with at least some", "align": "left", "baseline": "middle", "fontSize": 19, "color": "#333333"},
 "encoding": {"x": {"datum": 1992.389}, "y": {"datum": 0.34631}}},
{"mark": {"type": "text", "text": "secondary education", "align": "left", "baseline": "middle", "fontSize": 19, "color": "#333333"},
 "encoding": {"x": {"datum": 1992.389}, "y": {"datum": 0.31584}}},
{"mark": {"type": "text", "text": "(age 25 and older)", "align": "left", "baseline": "middle", "fontSize": 19, "color": "#333333"},
 "encoding": {"x": {"datum": 1992.389}, "y": {"datum": 0.28578}}},
{"mark": {"type": "text", "text": "58.8%", "align": "left", "baseline": "middle", "fontSize": 22, "fontWeight": "bold", "color": "#1e1e1e"},
 "encoding": {"x": {"datum": 2000.43}, "y": {"datum": 0.3445}}},
{"mark": {"type": "text", "text": "67.1%", "align": "left", "baseline": "middle", "fontSize": 21, "fontWeight": "bold", "color": "#1e1e1e"},
 "encoding": {"x": {"datum": 2002.383}, "y": {"datum": 0.3445}}},
{"mark": {"type": "text", "text": "-8.3%", "align": "right", "baseline": "middle", "fontSize": 21.5, "color": "#f06b6b"},
 "encoding": {"x": {"datum": 2006.518}, "y": {"datum": 0.3445}}},
{"mark": {"type": "text", "text": "Labour force participation rate", "align": "left", "baseline": "middle", "fontSize": 19, "color": "#333333"},
 "encoding": {"x": {"datum": 1992.389}, "y": {"datum": 0.25432}}},
{"mark": {"type": "text", "text": "(age 15 and older)", "align": "left", "baseline": "middle", "fontSize": 19, "color": "#333333"},
 "encoding": {"x": {"datum": 1992.389}, "y": {"datum": 0.22455}}},
{"mark": {"type": "text", "text": "65.1%", "align": "left", "baseline": "middle", "fontSize": 21.5, "fontWeight": "bold", "color": "#1e1e1e"},
 "encoding": {"x": {"datum": 2000.43}, "y": {"datum": 0.2525}}},
{"mark": {"type": "text", "text": "76.1%", "align": "left", "baseline": "middle", "fontSize": 21.5, "fontWeight": "bold", "color": "#1e1e1e"},
 "encoding": {"x": {"datum": 2002.383}, "y": {"datum": 0.2525}}},
{"mark": {"type": "text", "text": "-11.0%", "align": "right", "baseline": "middle", "fontSize": 21.5, "color": "#f06b6b"},
 "encoding": {"x": {"datum": 2006.518}, "y": {"datum": 0.2525}}},
{"mark": {"type": "point", "shape": "square", "filled": true, "fill": "#111111", "size": 150, "opacity": 1},
 "encoding": {"x": {"datum": 2016.428}, "y": {"datum": 0.90992}}},
{"mark": {"type": "point", "shape": "square", "filled": true, "fill": "#111111", "size": 150, "opacity": 1},
 "encoding": {"x": {"datum": 2016.428}, "y": {"datum": 0.85336}}},
{"mark": {"type": "text", "text": "Права и", "align": "left", "baseline": "alphabetic", "font": "Open Sans", "fontSize": 40, "color": "#111111"},
 "encoding": {"x": {"datum": 2017.488}, "y": {"datum": 0.89404}}},
{"mark": {"type": "text", "text": "Участие", "align": "left", "baseline": "alphabetic", "font": "Open Sans", "fontSize": 40, "color": "#111111"},
 "encoding": {"x": {"datum": 2017.488}, "y": {"datum": 0.8355}}},
{"mark": {"type": "text", "text": "труда", "align": "left", "baseline": "alphabetic", "font": "Open Sans", "fontSize": 40, "color": "#111111"},
 "encoding": {"x": {"datum": 2017.488}, "y": {"datum": 0.78291}}}
]
}
